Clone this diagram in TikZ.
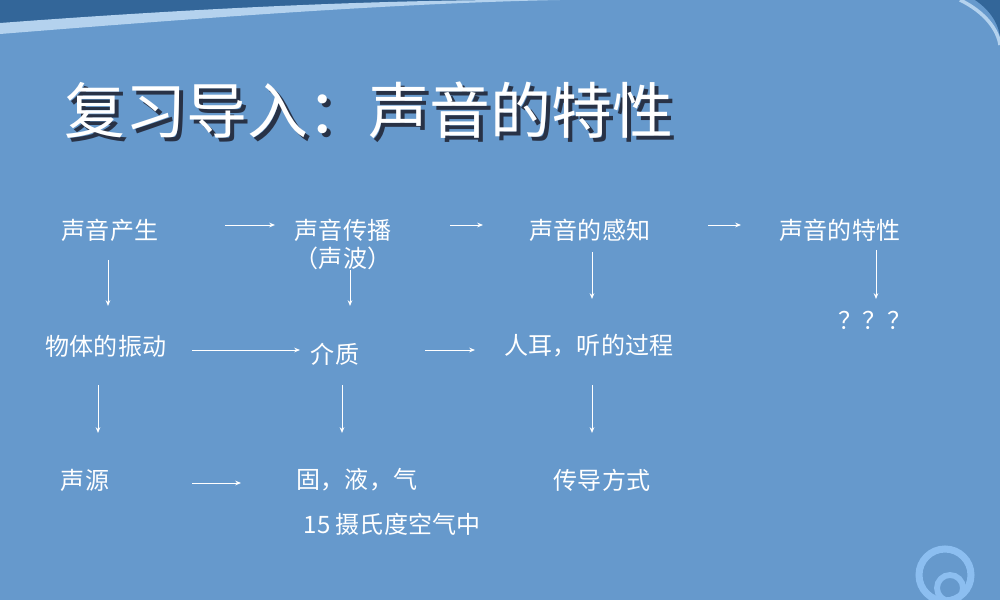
\documentclass[tikz,border=0pt]{standalone}
\usepackage{fontspec}
\setmainfont{Noto Sans CJK SC}
\newfontfamily\cjk{Noto Sans CJK SC}
\usetikzlibrary{arrows.meta}
\definecolor{bg}{RGB}{102,153,204}
\definecolor{dk}{RGB}{51,102,153}
\definecolor{lt}{RGB}{180,210,238}
\definecolor{rg}{RGB}{140,190,240}
\definecolor{sh}{RGB}{40,50,70}
\begin{document}
\begin{tikzpicture}[x=0.03cm,y=-0.03cm,
  lbl/.style={text=white,font=\cjk\fontsize{20.5}{22}\selectfont,inner sep=0pt},
  arr/.style={draw=white,-{Stealth[length=5pt,width=4pt]},line width=0.8pt}]
\fill[bg] (0,0) rectangle (1000,600);
\useasboundingbox (0,0) rectangle (1000,600);
\fill[dk] (0,0) -- (0,26) .. controls (200,12) and (400,0) .. (520,0) -- cycle;
\fill[lt] (0,23) .. controls (200,8) and (380,0) .. (520,0) -- (560,0) .. controls (400,3) and (200,18) .. (0,34) -- cycle;
\fill[dk] (1000,0) -- (975,0) .. controls (990,10) and (1000,25) .. (1000,40) -- cycle;
\draw[lt,line width=3pt] (960,0) .. controls (985,12) and (998,30) .. (1000,45);
\draw[rg,line width=6pt] (945,575) circle (26);
\draw[rg,line width=5pt] (950,588) circle (13);
\node[text=sh,font=\cjk\fontsize{52}{58}\selectfont,anchor=west,inner sep=0pt] at (68,114) {复习导入：声音的特性};
\node[text=white,font=\cjk\fontsize{52}{58}\selectfont,anchor=west,inner sep=0pt] (title) at (64,110) {复习导入：声音的特性};
\node[lbl] (a1) at (110,230) {声音产生};
\node[lbl] (a2) at (343,230) {声音传播};
\node[lbl] (a2b) at (343,258) {（声波）};
\node[lbl] (a3) at (590,230) {声音的感知};
\node[lbl] (a4) at (840,230) {声音的特性};
\node[lbl] (b1) at (106,346) {物体的振动};
\node[lbl] (b2) at (335,354) {介质};
\node[lbl] (b3) at (589,346) {人耳，听的过程};
\node[lbl] (b4) at (875,320) {？？？};
\node[lbl] (c1) at (85,480) {声源};
\node[lbl] (c2) at (357,480) {固，液，气};
\node[lbl] (c3) at (602,480) {传导方式};
\node[lbl] (d2) at (392,524) {15 摄氏度空气中};
\coordinate (h1s) at (225,225); \coordinate (h1e) at (275,225);
\coordinate (h2s) at (450,225); \coordinate (h2e) at (483,225);
\coordinate (h3s) at (708,225); \coordinate (h3e) at (741,225);
\draw[arr] (h1s) -- (h1e); \draw[arr] (h2s) -- (h2e); \draw[arr] (h3s) -- (h3e);
\draw[arr] (108,260) -- (108,306);
\draw[arr] (350,270) -- (350,306);
\draw[arr] (592,252) -- (592,299);
\draw[arr] (876,250) -- (876,299);
\draw[arr] (192,350) -- (300,350);
\draw[arr] (425,350) -- (475,350);
\draw[arr] (98,385) -- (98,433);
\draw[arr] (342,385) -- (342,433);
\draw[arr] (592,385) -- (592,433);
\draw[arr] (192,483) -- (241,483);
\end{tikzpicture}
\end{document}
